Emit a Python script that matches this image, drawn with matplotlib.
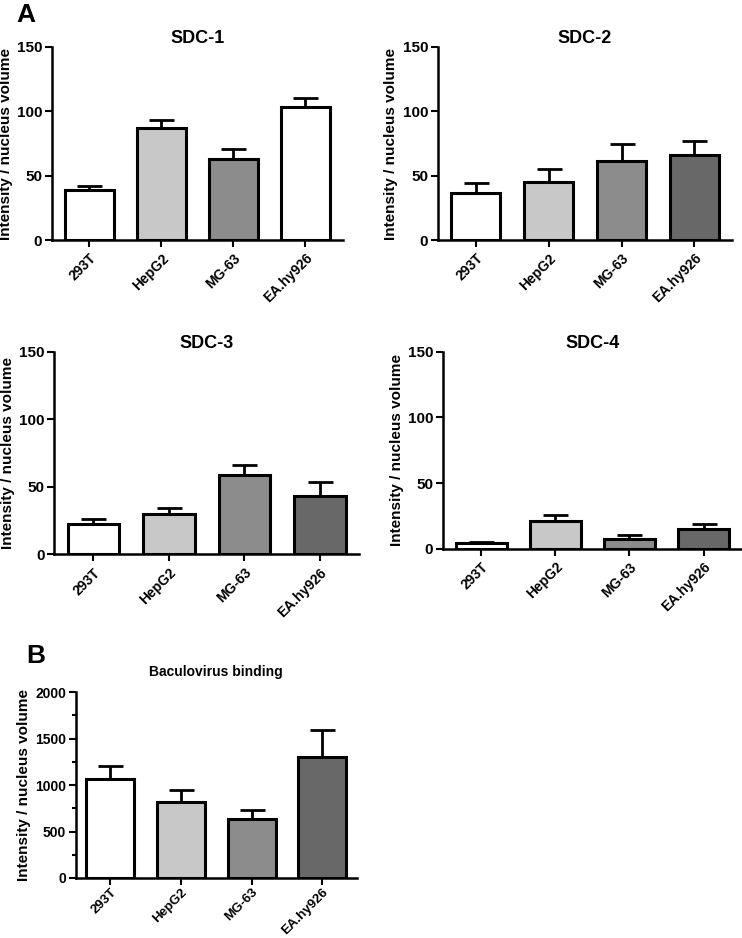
import matplotlib
matplotlib.use("Agg")
import matplotlib.pyplot as plt
from matplotlib.ticker import MultipleLocator

plt.rcParams['font.family'] = ['Liberation Sans', 'DejaVu Sans']
plt.rcParams['font.weight'] = 'bold'

cells = ["293T", "HepG2", "MG-63", "EA.hy926"]

sdc1_mean = [39.2, 87.2, 63.1, 103.6]
sdc1_err = [3.1, 6.0, 7.8, 6.4]
sdc2_mean = [36.6, 44.9, 61.2, 66.4]
sdc2_err = [7.5, 10.6, 13.3, 10.4]
sdc3_mean = [22.7, 29.7, 58.8, 43.5]
sdc3_err = [3.5, 4.4, 7.2, 10.4]
sdc4_mean = [4.3, 21.0, 7.6, 15.2]
sdc4_err = [0.8, 5.0, 2.5, 3.3]
bac_mean = [1071, 818, 639, 1307]
bac_err = [136, 128, 97, 289]

colors_std = ["#ffffff", "#c8c8c8", "#8c8c8c", "#686868"]
colors_sdc1 = ["#ffffff", "#c8c8c8", "#8c8c8c", "#ffffff"]

fig = plt.figure(figsize=(7.42, 9.38), dpi=100)

def panel(rect, means, errs, colors, title, ymax, ystep, title_size=13,
          tick_size=11, xtick_size=10, minor=None, xoff=0.52, title_pad=1,
          xpad=3):
    ax = fig.add_axes(rect)
    x = range(len(cells))
    ax.bar(x, means, width=0.68, color=colors, edgecolor="black",
           linewidth=2.2, zorder=2)
    ax.errorbar(x, means, yerr=[[0]*len(errs), errs], fmt="none",
                ecolor="black", elinewidth=2, capsize=9, capthick=2, zorder=1)
    ax.set_xlim(-xoff, len(cells) - 1 + xoff)
    ax.set_ylim(0, ymax)
    ax.yaxis.set_major_locator(MultipleLocator(ystep))
    if minor:
        ax.yaxis.set_minor_locator(MultipleLocator(minor))
        ax.tick_params(axis='y', which='minor', length=3, width=1.5)
    ax.set_xticks(list(x))
    ax.set_xticklabels(cells, rotation=45, ha="right", rotation_mode="anchor",
                       fontsize=xtick_size, fontweight="bold")
    for lab in ax.get_yticklabels():
        lab.set_fontweight("bold")
    ax.tick_params(axis='y', labelsize=tick_size, length=5, width=1.5, pad=2)
    ax.tick_params(axis='x', length=5, width=1.5, pad=xpad)
    for s in ["top", "right"]:
        ax.spines[s].set_visible(False)
    for s in ["left", "bottom"]:
        ax.spines[s].set_linewidth(1.8)
    ax.set_ylabel("Intensity / nucleus volume", fontsize=11, fontweight="bold",
                  labelpad=3)
    ax.set_title(title, fontsize=title_size, fontweight="bold", pad=title_pad)
    return ax

panel([0.070, 0.744, 0.392, 0.206], sdc1_mean, sdc1_err, colors_sdc1, "SDC-1", 150, 50)
panel([0.590, 0.744, 0.397, 0.206], sdc2_mean, sdc2_err, colors_std, "SDC-2", 150, 50)
panel([0.073, 0.409, 0.411, 0.216], sdc3_mean, sdc3_err, colors_std, "SDC-3", 150, 50)
panel([0.597, 0.415, 0.403, 0.210], sdc4_mean, sdc4_err, colors_std, "SDC-4", 150, 50)
panel([0.102, 0.064, 0.379, 0.198], bac_mean, bac_err, colors_std,
      "Baculovirus binding", 2000, 500, title_size=10, tick_size=10,
      xtick_size=9.5, minor=250, xoff=0.49, title_pad=12, xpad=1)

fig.text(0.022, 0.997, "A", fontsize=19, fontweight="bold", va="top", ha="left")
fig.text(0.036, 0.313, "B", fontsize=19, fontweight="bold", va="top", ha="left")

fig.savefig("out.png", dpi=100)
